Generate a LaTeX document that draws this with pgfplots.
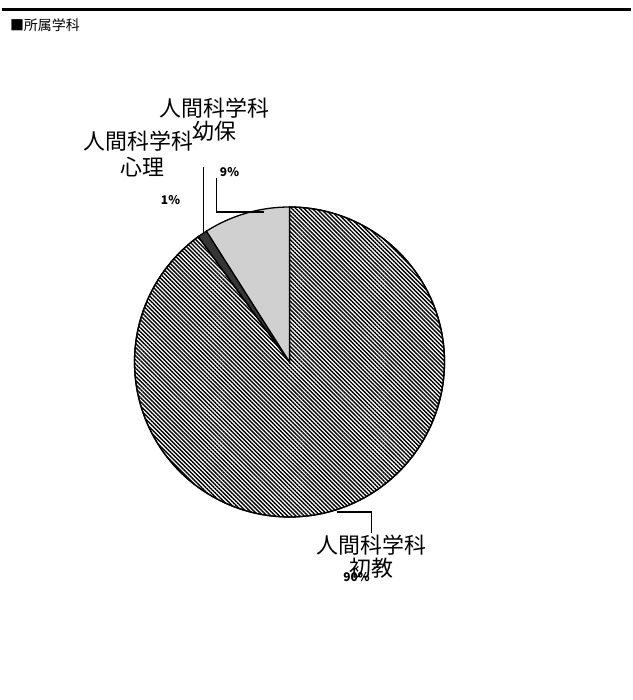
\documentclass[border=0pt]{standalone}
\usepackage{pgfplots}
\pgfplotsset{compat=1.18}
\usetikzlibrary{patterns.meta}
\usepackage{fontspec}
\setmainfont{Noto Sans CJK JP}
\definecolor{darkslice}{HTML}{363636}
\definecolor{lightslice}{HTML}{D0D0D0}
\begin{document}
\begin{tikzpicture}
% shares: 初教, 心理, 幼保
\def\vA{90}\def\vB{1}\def\vC{9}
\pgfmathsetmacro\tot{\vA+\vB+\vC}
\pgfmathsetmacro\aA{90-360*(\vA/\tot)}
\pgfmathsetmacro\aB{\aA-360*(\vB/\tot)}
\pgfmathsetmacro\aC{\aB-360*(\vC/\tot)}
\def\cx{288}\def\cy{-362}\def\r{155}
\begin{axis}[width=629bp,height=700bp,scale only axis,
  xmin=0,xmax=629,ymin=-700,ymax=0,hide axis,clip=false]
 \path (axis cs:0,0) rectangle (axis cs:629,-700);
 \draw[line width=3bp] (axis cs:0,-10) -- (axis cs:629,-10);
 \node[anchor=west,font=\fontsize{14}{16}\selectfont] at (axis cs:5,-25) {■所属学科};
 % slices
 \addplot[draw=black,line width=1.3bp,fill=white,
   postaction={pattern={Lines[angle=-45,distance=2.9bp,line width=1.4bp]}},
   domain=\aA:90,samples=160] ({\cx+\r*cos(x)},{\cy+\r*sin(x)}) -- (axis cs:\cx,\cy) -- cycle;
 \addplot[draw=black,line width=1.3bp,fill=darkslice,
   domain=\aB:\aA,samples=5] ({\cx+\r*cos(x)},{\cy+\r*sin(x)}) -- (axis cs:\cx,\cy) -- cycle;
 \addplot[draw=black,line width=1.3bp,fill=lightslice,
   domain=\aC:\aB,samples=30] ({\cx+\r*cos(x)},{\cy+\r*sin(x)}) -- (axis cs:\cx,\cy) -- cycle;
 % leader lines
 \draw[line width=1.5bp] (axis cs:335,-512) -- (axis cs:370,-512) -- (axis cs:370,-533);
 \draw[line width=1.5bp] (axis cs:215,-178) -- (axis cs:215,-212) -- (axis cs:262,-212);
 \draw[line width=1.5bp] (axis cs:202,-167) -- (axis cs:202,-233);
 % labels
 \begin{scope}[every node/.style={font=\fontsize{22}{24}\selectfont,inner sep=0pt}]
  \node at (axis cs:213,-108) {人間科学科};
  \node at (axis cs:213,-131) {幼保};
  \node at (axis cs:137,-141) {人間科学科};
  \node at (axis cs:141,-167) {心理};
  \node at (axis cs:370,-545) {人間科学科};
  \node at (axis cs:370,-568) {初教};
 \end{scope}
 \begin{scope}[every node/.style={font=\fontsize{12}{14}\selectfont\bfseries,inner sep=0pt}]
  \node at (axis cs:228,-172) {9\%};
  \node at (axis cs:169,-200) {1\%};
  \node at (axis cs:355,-577) {90\%};
 \end{scope}
\end{axis}
\end{tikzpicture}
\end{document}
